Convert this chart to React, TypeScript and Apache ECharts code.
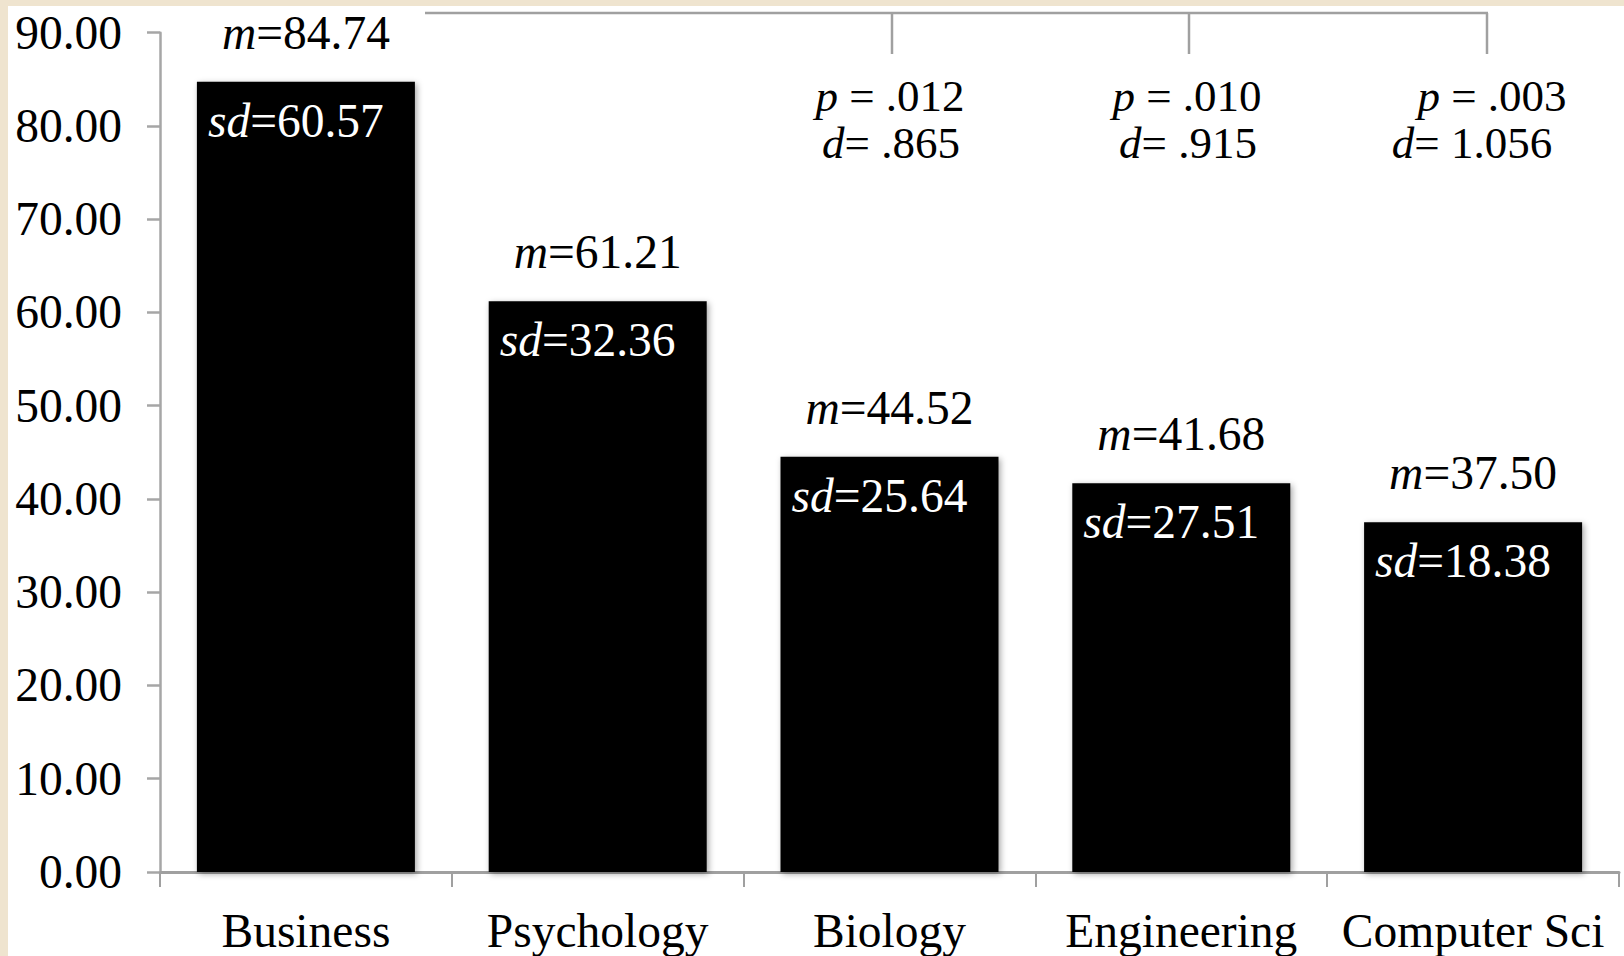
import React, { useEffect, useRef } from "react";
import * as echarts from "echarts";

const categories = ["Business", "Psychology", "Biology", "Engineering", "Computer Sci"];
const means = [84.74, 61.21, 44.52, 41.68, 37.5];
const sds = [60.57, 32.36, 25.64, 27.51, 18.38];
const yTicks = { min: 0, max: 90, interval: 10 };
const pValues = [".012", ".010", ".003"];
const dValues = [".865", ".915", "1.056"];

const FONT = "'Liberation Serif', 'Times New Roman', serif";

export default function App() {
  const ref = useRef<HTMLDivElement>(null);

  useEffect(() => {
    if (!ref.current) return;
    const chart = echarts.init(ref.current, undefined, { renderer: "svg" });

    const FS = 47.5;
    const richBase = {
      i: { fontFamily: FONT, fontSize: FS, fontStyle: "italic", color: "#000" },
      n: { fontFamily: FONT, fontSize: FS, color: "#000" },
    };
    const richWhite = {
      i: { fontFamily: FONT, fontSize: FS, fontStyle: "italic", color: "#fff" },
      n: { fontFamily: FONT, fontSize: FS, color: "#fff" },
    };
    const richP = {
      i: { fontFamily: FONT, fontSize: 45, fontStyle: "italic", fill: "#000", color: "#000" },
      n: { fontFamily: FONT, fontSize: 45, fill: "#000", color: "#000" },
    };

    const pX = [890, 1187, 1492];
    const dX = [891, 1188, 1472];
    const textEls: any[] = [];
    pValues.forEach((p, k) => {
      textEls.push({
        type: "text",
        x: pX[k],
        y: 96,
        style: {
          text: `{i|p}{n| = ${p}}`,
          rich: richP,
          align: "center",
          verticalAlign: "middle",
          textAlign: "center",
          textVerticalAlign: "middle",
        },
      });
      textEls.push({
        type: "text",
        x: dX[k],
        y: 143,
        style: {
          text: `{i|d}{n|= ${dValues[k]}}`,
          rich: richP,
          align: "center",
          verticalAlign: "middle",
          textAlign: "center",
          textVerticalAlign: "middle",
        },
      });
    });

    const bracketStyle = { stroke: "#a0a0a0", lineWidth: 2.5 };
    const bracketTop = 13;
    const bracketBottom = 54;
    const drops = [892, 1189, 1487];
    const lineEls: any[] = [
      { type: "line", shape: { x1: 425, y1: bracketTop, x2: 1488, y2: bracketTop }, style: bracketStyle },
      ...drops.map((x) => ({
        type: "line",
        shape: { x1: x, y1: bracketTop, x2: x, y2: bracketBottom },
        style: bracketStyle,
      })),
    ];

    chart.setOption({
      animation: false,
      backgroundColor: "transparent",
      grid: { left: 160, right: 5, top: 32.7, bottom: 84, containLabel: false },
      xAxis: {
        type: "category",
        data: categories,
        axisLine: { show: true, lineStyle: { color: "#a0a0a0", width: 3 } },
        axisTick: { show: true, interval: 0, length: 15, lineStyle: { color: "#a0a0a0", width: 2 } },
        axisLabel: { interval: 0, fontFamily: FONT, fontSize: FS, color: "#000", margin: 35 },
        splitLine: { show: false },
      },
      yAxis: {
        type: "value",
        min: yTicks.min,
        max: yTicks.max,
        interval: yTicks.interval,
        axisLine: { show: true, lineStyle: { color: "#a6a6a6", width: 2.5 } },
        axisTick: { show: true, length: 13, lineStyle: { color: "#a6a6a6", width: 2.5 } },
        axisLabel: {
          fontFamily: FONT,
          fontSize: FS,
          color: "#000",
          margin: 38,
          formatter: (v: number) => v.toFixed(2),
        },
        splitLine: { show: false },
      },
      series: [
        {
          type: "bar",
          data: means,
          barWidth: 218,
          itemStyle: {
            color: "#000",
            shadowBlur: 6,
            shadowColor: "rgba(0,0,0,0.35)",
            shadowOffsetX: 2,
            shadowOffsetY: 2,
          },
          label: {
            show: true,
            position: "top",
            distance: 25,
            formatter: (p: any) => `{i|m}{n|=${means[p.dataIndex].toFixed(2)}}`,
            rich: richBase,
          },
          silent: true,
        },
        {
          type: "bar",
          data: means,
          barWidth: 218,
          barGap: "-100%",
          itemStyle: { color: "rgba(0,0,0,0)" },
          label: {
            show: true,
            position: [11, 39],
            align: "left",
            verticalAlign: "middle",
            formatter: (p: any) => `{i|sd}{n|=${sds[p.dataIndex].toFixed(2)}}`,
            rich: richWhite,
          },
          silent: true,
        },
      ],
      graphic: { elements: [...lineEls, ...textEls] },
    });

    return () => chart.dispose();
  }, []);

  return (
    <div
      style={{
        position: "fixed",
        left: 0,
        top: 0,
        width: 1624,
        height: 956,
        background: "#efe4cf",
        overflow: "hidden",
      }}
    >
      <div
        style={{
          position: "absolute",
          left: 8,
          top: 6,
          right: 0,
          bottom: 0,
          background: "#fff",
        }}
      />
      <div ref={ref} style={{ position: "absolute", left: 0, top: 0, width: 1624, height: 956 }} />
    </div>
  );
}
